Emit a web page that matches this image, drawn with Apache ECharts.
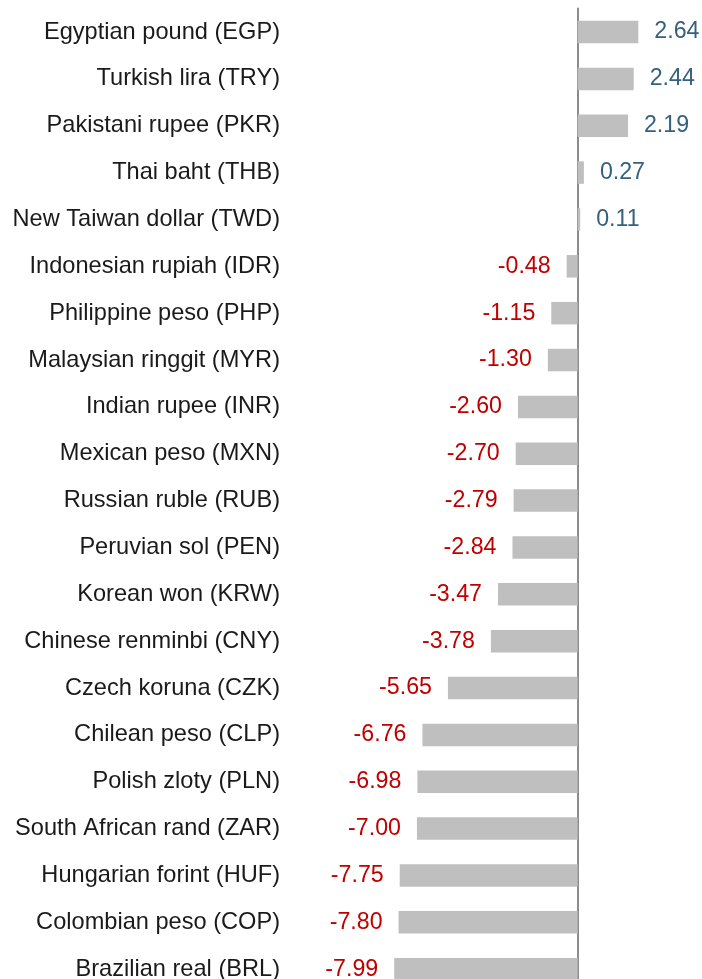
<!DOCTYPE html>
<html>
<head>
<meta charset="utf-8">
<style>
  html, body { margin: 0; padding: 0; background: #ffffff; }
  #chart { width: 702px; height: 979px; }
</style>
<script src="https://cdn.jsdelivr.net/npm/echarts@6/dist/echarts.min.js"></script>
</head>
<body>
<div id="chart"></div>
<script>
// Currency change vs. USD (%), top to bottom
const currencies = [
  'Egyptian pound (EGP)', 'Turkish lira (TRY)', 'Pakistani rupee (PKR)', 'Thai baht (THB)',
  'New Taiwan dollar (TWD)', 'Indonesian rupiah (IDR)', 'Philippine peso (PHP)', 'Malaysian ringgit (MYR)',
  'Indian rupee (INR)', 'Mexican peso (MXN)', 'Russian ruble (RUB)', 'Peruvian sol (PEN)',
  'Korean won (KRW)', 'Chinese renminbi (CNY)', 'Czech koruna (CZK)', 'Chilean peso (CLP)',
  'Polish zloty (PLN)', 'South African rand (ZAR)', 'Hungarian forint (HUF)', 'Colombian peso (COP)',
  'Brazilian real (BRL)'
];
const changes = [
  2.64, 2.44, 2.19, 0.27,
  0.11, -0.48, -1.15, -1.30,
  -2.60, -2.70, -2.79, -2.84,
  -3.47, -3.78, -5.65, -6.76,
  -6.98, -7.00, -7.75, -7.80,
  -7.99
];

const POS_COLOR = '#35607e';
const NEG_COLOR = '#c00000';
const FONT = '"Liberation Sans", Arial, sans-serif';

const barData = changes.map(v => ({
  value: v,
  label: {
    position: v >= 0 ? 'right' : 'left',
    color: v >= 0 ? POS_COLOR : NEG_COLOR
  }
}));

const chart = echarts.init(document.getElementById('chart'), null, { renderer: 'canvas' });
chart.setOption({
  animation: false,
  backgroundColor: '#ffffff',
  grid: {
    left: 382.5, right: 9.5, top: 8.6, height: 984,
    containLabel: false,
    outerBoundsMode: 'none'
  },
  xAxis: {
    type: 'value',
    min: -8.5,
    max: 5,
    show: false
  },
  yAxis: {
    type: 'category',
    data: currencies,
    inverse: true,
    axisLine: { show: true, onZero: true, lineStyle: { color: '#8c8c8c', width: 2 } },
    axisTick: { show: false },
    splitLine: { show: false },
    axisLabel: {
      margin: 102.5,
      align: 'right',
      color: '#1a1a1a',
      fontFamily: FONT,
      fontSize: 23.6
    }
  },
  series: [{
    type: 'bar',
    data: barData,
    barCategoryGap: '52%',
    itemStyle: { color: '#bfbfbf' },
    label: {
      show: true,
      distance: 16,
      fontFamily: FONT,
      fontSize: 23.2,
      formatter: p => p.value.toFixed(2)
    }
  }]
});
</script>
</body>
</html>
